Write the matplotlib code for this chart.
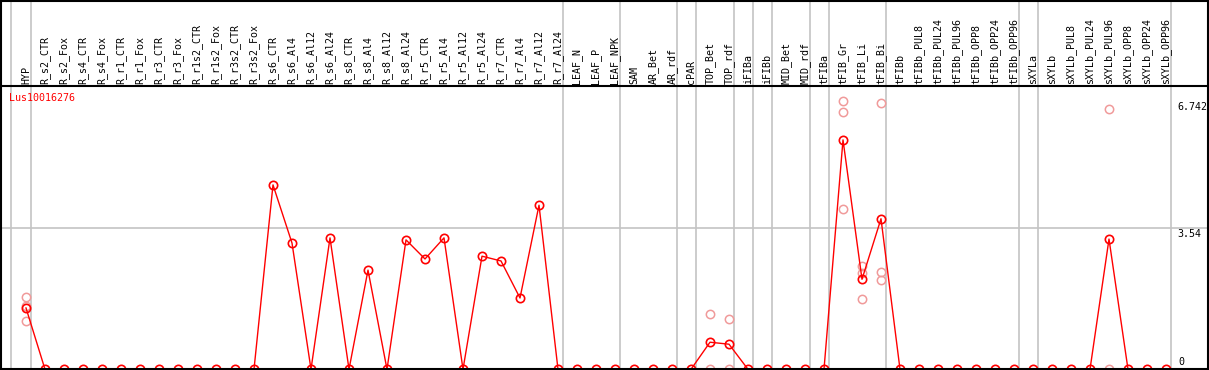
import matplotlib
matplotlib.use("Agg")
import matplotlib.pyplot as plt
import numpy as np

# ---- data ----
samples = ["HYP", "R_s2_CTR", "R_s2_Fox", "R_s4_CTR", "R_s4_Fox", "R_r1_CTR", "R_r1_Fox",
           "R_r3_CTR", "R_r3_Fox", "R_r1s2_CTR", "R_r1s2_Fox", "R_r3s2_CTR", "R_r3s2_Fox",
           "R_s6_CTR", "R_s6_Al4", "R_s6_Al12", "R_s6_Al24", "R_s8_CTR", "R_s8_Al4",
           "R_s8_Al12", "R_s8_Al24", "R_r5_CTR", "R_r5_Al4", "R_r5_Al12", "R_r5_Al24",
           "R_r7_CTR", "R_r7_Al4", "R_r7_Al12", "R_r7_Al24", "LEAF_N", "LEAF_P", "LEAF_NPK",
           "SAM", "AR_Bet", "AR_rdf", "cPAR", "TOP_Bet", "TOP_rdf", "iFIBa", "iFIBb",
           "MID_Bet", "MID_rdf", "tFIBa", "tFIB_Gr", "tFIB_Li", "tFIB_Bi", "tFIBb",
           "tFIBb_PUL8", "tFIBb_PUL24", "tFIBb_PUL96", "tFIBb_OPP8", "tFIBb_OPP24",
           "tFIBb_OPP96", "sXYLa", "sXYLb", "sXYLb_PUL8", "sXYLb_PUL24", "sXYLb_PUL96",
           "sXYLb_OPP8", "sXYLb_OPP24", "sXYLb_OPP96"]

mean_values = [1.54, 0, 0, 0, 0, 0, 0, 0, 0, 0, 0, 0, 0,
               4.63, 3.17, 0, 3.30, 0, 2.49, 0, 3.25, 2.77, 3.30, 0, 2.84,
               2.72, 1.79, 4.12, 0, 0, 0, 0,
               0, 0, 0, 0, 0.68, 0.63, 0, 0,
               0, 0, 0, 5.76, 2.26, 3.78, 0,
               0, 0, 0, 0, 0, 0, 0, 0, 0, 0, 3.27, 0, 0, 0]

# replicate values (sample name -> values)
replicates = {
    "HYP": [1.81, 1.59, 1.22],
    "TOP_Bet": [1.38, 0.0],
    "TOP_rdf": [1.26, 0.0],
    "tFIB_Gr": [6.742, 6.47, 4.02],
    "tFIB_Li": [2.59, 2.43, 1.76],
    "tFIB_Bi": [6.68, 2.44, 2.23],
    "sXYLb_PUL96": [6.53, 0.0],
}

# group boundaries (last sample of each group)
group_ends = ["HYP", "R_r7_Al24", "LEAF_NPK", "AR_rdf", "cPAR", "TOP_rdf", "iFIBa",
              "iFIBb", "MID_rdf", "tFIBa", "tFIB_Bi", "tFIBb_OPP96", "sXYLa", "sXYLb_OPP96"]

gene = "Lus10016276"
y_ticks = [0, 3.54, 6.742]
y_tick_labels = ["0", "3.54", "6.742"]

# ---- layout (pixel mapping) ----
W, H = 1209, 370
X0, DX = 26.0, 19.0          # pixel x of first column, column step
Y0, U = 369.3, 141.0 / 3.54  # pixel y (from top) of zero, pixels per unit

def px_x(p):
    return (p - X0) / DX

def px_y(p):
    return (Y0 - p) / U

fig = plt.figure(figsize=(W / 100, H / 100), dpi=100)
ax = fig.add_axes([0, 0, 1, 1])
ax.set_xlim(px_x(0), px_x(W))
ax.set_ylim(px_y(H), px_y(0))
ax.axis("off")

mono = "DejaVu Sans Mono"
fs = 7.2
grid_c = "#c4c4c4"

x = np.arange(len(samples))

# vertical separators
ax.axvline(px_x(10.7), color=grid_c, lw=1.2, zorder=1)
for name in group_ends:
    i = samples.index(name)
    ax.axvline(i + 4.7 / DX, color=grid_c, lw=1.2, zorder=1)

# horizontal grid at 3.54
ax.axhline(3.54, color=grid_c, lw=1.2, zorder=1)

# frame lines
ax.axhline(0, color="black", lw=1.5, zorder=5)
header_y = px_y(85.7)
ax.axhline(header_y, color="black", lw=1.5, zorder=5)
ax.axhline(px_y(0.6), color="black", lw=1.5, zorder=5)
ax.axvline(px_x(0.6), color="black", lw=1.5, zorder=5)
ax.axvline(px_x(1208.0), color="black", lw=1.5, zorder=5)

# sample labels
for i, name in enumerate(samples):
    ax.text(i, px_y(83.5), name, rotation=90, ha="center", va="bottom",
            fontsize=fs, family=mono, color="black")

# gene label
ax.text(px_x(9.5), px_y(98), gene, ha="left", va="center", fontsize=fs,
        family=mono, color="red")

# y labels on right
for v, lab in zip(y_ticks, y_tick_labels):
    if v == 0:
        ax.text(px_x(1178), px_y(367), lab, ha="left", va="bottom",
                fontsize=fs, family=mono)
    else:
        ax.text(px_x(1177), v - 1.0 / U, lab, ha="left", va="top",
                fontsize=fs, family=mono)

# replicates
for name, vals in replicates.items():
    i = samples.index(name)
    ax.plot([i] * len(vals), vals, linestyle="none", marker="o", markersize=6,
            markerfacecolor="none", markeredgecolor="#f09a9a", markeredgewidth=1.1,
            zorder=3, clip_on=False)

# mean line
ax.plot(x, mean_values, color="red", lw=1.0, marker="o", markersize=6,
        markerfacecolor="none", markeredgecolor="red", markeredgewidth=1.2, zorder=4)

fig.savefig("out.png", dpi=100)
